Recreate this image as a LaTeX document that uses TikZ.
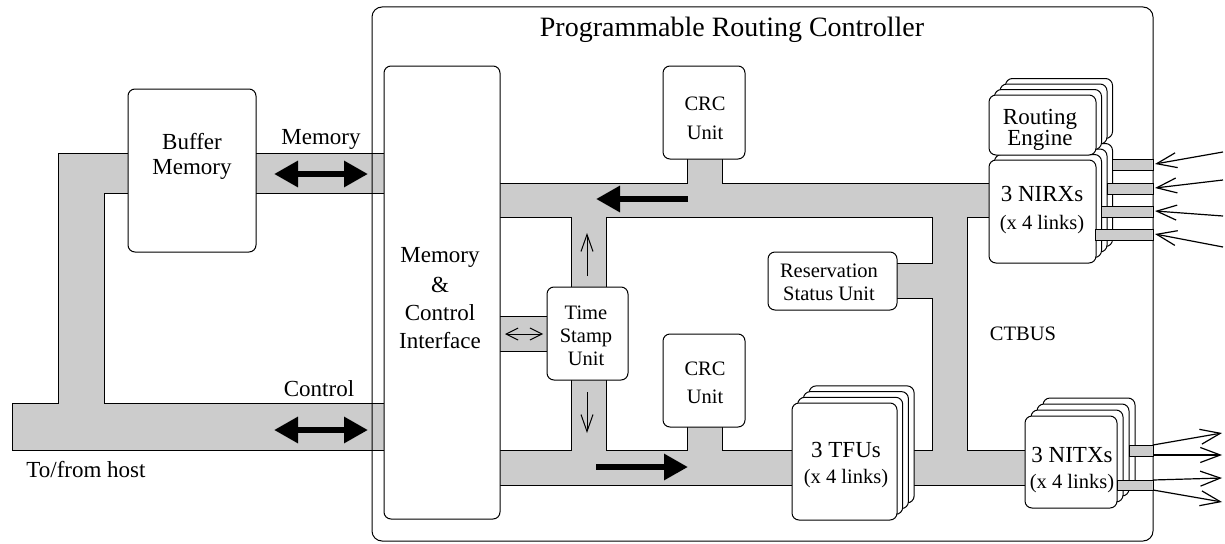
\documentclass[tikz,border=0pt]{standalone}
\usepackage{fontspec}
\setmainfont{Liberation Serif}
\usetikzlibrary{arrows.meta}
\definecolor{busgray}{RGB}{204,204,204}
\newcommand\fmain{\fontsize{23}{27}\selectfont}
\newcommand\fsmall{\fontsize{20.5}{24}\selectfont}
\newcommand\ftitle{\fontsize{28}{32}\selectfont}
\begin{document}
\begin{tikzpicture}[x=1pt,y=-1pt,
  box/.style={draw, fill=white, rounded corners=7pt, line width=1pt, inner sep=0pt, outer sep=0pt},
  bus/.style={fill=busgray},
  busline/.style={line width=1pt},
  txt/.style={inner sep=0pt, anchor=base, font=\fmain},
  stxt/.style={inner sep=0pt, anchor=base, font=\fsmall},
  ttxt/.style={inner sep=0pt, anchor=base, font=\ftitle},
  bigarrow/.style={line width=6pt, -{Triangle[length=24pt,width=25pt]}},
  bigdouble/.style={line width=6pt, {Triangle[length=24pt,width=25pt]}-{Triangle[length=24pt,width=25pt]}},
  thinarrow/.style={line width=1pt, -{Straight Barb[length=17pt,width=12pt]}},
  thindouble/.style={line width=1pt, {Straight Barb[length=12pt,width=12pt]}-{Straight Barb[length=12pt,width=12pt]}},
  linkarrow/.style={line width=1.2pt, -{Straight Barb[length=20pt,width=15pt]}},
  link/.style={draw, fill=busgray, line width=1pt}
]
\useasboundingbox (0,0) rectangle (1225,543);

% ---------- gray bus fills ----------
\fill[bus] (12,403) rectangle (388,450);
\fill[bus] (58,153) rectangle (104,450);
\fill[bus] (58,153) rectangle (132,193);
\fill[bus] (252,153) rectangle (388,193);
\fill[bus] (496,183) rectangle (993,217);
\fill[bus] (687,155) rectangle (722,185);
\fill[bus] (571,215) rectangle (606,291);
\fill[bus] (571,376) rectangle (606,452);
\fill[bus] (496,450) rectangle (1029,485);
\fill[bus] (687,423) rectangle (722,452);
\fill[bus] (932,215) rectangle (967,452);
\fill[bus] (893,263) rectangle (934,298);
\fill[bus] (496,316) rectangle (551,351);

% ---------- bus outlines ----------
\draw[busline] (12,403) -- (58,403) -- (58,153) -- (128,153);
\draw[busline] (128,193) -- (104,193) -- (104,403) -- (384,403);
\draw[busline] (12,403) -- (12,450) -- (384,450);
\draw[busline] (256,153) -- (384,153);
\draw[busline] (256,193) -- (384,193);
\draw[busline] (500,183) -- (687,183) -- (687,159);
\draw[busline] (722,159) -- (722,183) -- (989,183);
\draw[busline] (500,217) -- (571,217) -- (571,287);
\draw[busline] (606,287) -- (606,217) -- (932,217) -- (932,263) -- (897,263);
\draw[busline] (897,298) -- (932,298) -- (932,450) -- (914,450);
\draw[busline] (989,217) -- (967,217) -- (967,450) -- (1025,450);
\draw[busline] (500,450) -- (571,450) -- (571,380);
\draw[busline] (606,380) -- (606,450) -- (687,450) -- (687,427);
\draw[busline] (722,427) -- (722,450) -- (792,450);
\draw[busline] (500,485) -- (792,485);
\draw[busline] (914,485) -- (1025,485);
\draw[busline] (500,316) -- (547,316);
\draw[busline] (500,351) -- (547,351);

% ---------- outer controller box ----------
\node[draw, rounded corners=10pt, line width=1pt, inner sep=0pt, minimum width=781pt, minimum height=534pt] (prc) at (762.5,274) {};

% ---------- boxes ----------
\node[box, minimum width=128pt, minimum height=163pt] (buf) at (192,170.5) {};
\node[box, minimum width=116pt, minimum height=453pt] (mci) at (442,292.5) {};
\node[box, minimum width=82pt, minimum height=93pt] (crcA) at (704,112.5) {};
\node[box, minimum width=82pt, minimum height=93pt] (crcB) at (704,380.5) {};
\node[box, minimum width=81pt, minimum height=93pt] (tsu) at (587.5,333.5) {};
\node[box, minimum width=129pt, minimum height=58pt] (rsu) at (832.5,281) {};

\foreach \k in {3,2,1}
  \node[box, minimum width=107pt, minimum height=103pt] (nirx\k) at ({1042.5+5.5*\k},{211.5-5.5*\k}) {};
\node[box, minimum width=107pt, minimum height=103pt] (nirx) at (1042.5,211.5) {};
\foreach \k in {3,2,1}
  \node[box, minimum width=107pt, minimum height=60pt] (re\k) at ({1042.5+5.5*\k},{125-5.5*\k}) {};
\node[box, minimum width=107pt, minimum height=60pt] (re) at (1042.5,125) {};
\foreach \k in {3,2,1}
  \node[box, minimum width=105pt, minimum height=117pt] (tfu\k) at ({844.5+5.7*\k},{461.5-5.7*\k}) {};
\node[box, minimum width=105pt, minimum height=117pt] (tfu) at (844.5,461.5) {};
\foreach \k in {3,2,1}
  \node[box, minimum width=92pt, minimum height=92pt] (nitx\k) at ({1071+6*\k},{462-6*\k}) {};
\node[box, minimum width=92pt, minimum height=92pt] (nitx) at (1071,462) {};

% ---------- link stubs ----------
\path[link] (1112,159) rectangle (1153,170);
\path[link] (1107,183) rectangle (1153,194);
\path[link] (1101,206) rectangle (1153,217);
\path[link] (1095,229) rectangle (1153,240);
\path[link] (1129,445) rectangle (1153,456);
\path[link] (1117,480) rectangle (1153,490);

% ---------- texts ----------
\node[ttxt] (title) at (732,37) {Programmable Routing Controller};
\node[txt] (buf1) at (192,149) {Buffer};
\node[txt] (buf2) at (192,174) {Memory};
\node[txt] (memlab) at (321,144) {Memory};
\node[txt] (ctllab) at (319,396) {Control};
\node[txt] (host) at (86,477) {To/from host};
\node[txt] (mci1) at (440,262) {Memory};
\node[txt] (mci2) at (440,292) {\&};
\node[txt] (mci3) at (440,320) {Control};
\node[txt] (mci4) at (440,348) {Interface};
\node[stxt] (crcA1) at (705,110) {CRC};
\node[stxt] (crcA2) at (705,139) {Unit};
\node[stxt] (crcB1) at (705,375) {CRC};
\node[stxt] (crcB2) at (705,403) {Unit};
\node[stxt] (tsu1) at (586,319) {Time};
\node[stxt] (tsu2) at (586,342) {Stamp};
\node[stxt] (tsu3) at (586,365) {Unit};
\node[stxt] (rsu1) at (829,277) {Reservation};
\node[stxt] (rsu2) at (829,300) {Status Unit};
\node[stxt] (ctbus) at (1023,340) {CTBUS};
\node[txt] (re1) at (1040,124) {Routing};
\node[txt] (re2) at (1040,145) {Engine};
\node[txt] (nirxA) at (1042,201) {3 NIRXs};
\node[stxt] (nirxB) at (1042,229) {(x 4 links)};
\node[txt] (tfuA) at (846,457) {3 TFUs};
\node[stxt] (tfuB) at (846,483) {(x 4 links)};
\node[txt] (nitxA) at (1072,462) {3 NITXs};
\node[stxt] (nitxB) at (1072,488) {(x 4 links)};

% ---------- arrow end points ----------
\coordinate (memL) at (274,174); \coordinate (memR) at (368,174);
\coordinate (ctlL) at (274,430); \coordinate (ctlR) at (368,430);
\coordinate (topS) at (688,199); \coordinate (topE) at (596,199);
\coordinate (botS) at (596,467); \coordinate (botE) at (688,467);
\coordinate (upS) at (587,276); \coordinate (upE) at (587,233);
\coordinate (dnS) at (587,392); \coordinate (dnE) at (587,433);
\coordinate (tsL) at (505,334); \coordinate (tsR) at (543,334);
\coordinate (in1s) at (1223,152); \coordinate (in1e) at (1155,164);
\coordinate (in2s) at (1223,180); \coordinate (in2e) at (1155,188);
\coordinate (in3s) at (1223,216); \coordinate (in3e) at (1155,211);
\coordinate (in4s) at (1223,247); \coordinate (in4e) at (1155,234);
\coordinate (out1s) at (1153,445); \coordinate (out1e) at (1222,433);
\coordinate (out2s) at (1153,455); \coordinate (out2e) at (1222,455);
\coordinate (out3s) at (1153,480); \coordinate (out3e) at (1222,478);
\coordinate (out4s) at (1153,490); \coordinate (out4e) at (1222,502);

% ---------- arrows ----------
\draw[bigdouble] (memL) -- (memR);
\draw[bigdouble] (ctlL) -- (ctlR);
\draw[bigarrow] (topS) -- (topE);
\draw[bigarrow] (botS) -- (botE);
\draw[thinarrow] (upS) -- (upE);
\draw[thinarrow] (dnS) -- (dnE);
\draw[thindouble] (tsL) -- (tsR);
\foreach \i in {1,2,3,4} {
  \draw[linkarrow] (in\i s) -- (in\i e);
  \draw[linkarrow] (out\i s) -- (out\i e);
}
\end{tikzpicture}
\end{document}
